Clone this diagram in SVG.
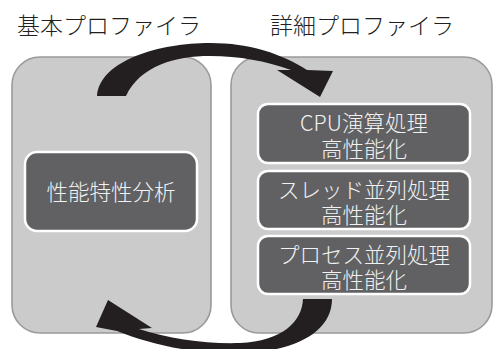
<svg xmlns="http://www.w3.org/2000/svg" width="494" height="349" viewBox="0 0 494 349">
<style>
.title{font-family:"Noto Sans CJK JP","Noto Sans",sans-serif;font-size:23px;fill:#231f20;text-anchor:middle;font-weight:300}
.panel{fill:#cbcbcc;stroke:#9a9a9b;stroke-width:1.6}
.box{fill:#616163;stroke:#ffffff;stroke-width:2.5}
.lbl{font-family:"Noto Sans CJK JP","Noto Sans",sans-serif;font-size:21.5px;fill:#f2f2f2;text-anchor:middle;font-weight:300}
.arrow{fill:#231f20}
</style>
<rect width="494" height="349" fill="#ffffff"/>
<g id="basic-profiler">
  <text class="title" x="109" y="34">基本プロファイラ</text>
  <rect class="panel" x="12" y="57" width="199" height="276" rx="28"/>
</g>
<g id="detail-profiler">
  <text class="title" x="362" y="34">詳細プロファイラ</text>
  <rect class="panel" x="231" y="57" width="261" height="276" rx="28"/>
</g>
<g id="perf-analysis">
  <rect class="box" x="25" y="152" width="172" height="79" rx="12"/>
  <text class="lbl" x="111" y="200">性能特性分析</text>
</g>
<g id="cpu">
  <rect class="box" x="258" y="104" width="212" height="59" rx="10"/>
  <text class="lbl" x="364" y="131">CPU演算処理</text>
  <text class="lbl" x="364" y="157">高性能化</text>
</g>
<g id="thread">
  <rect class="box" x="258" y="171" width="212" height="58" rx="10"/>
  <text class="lbl" x="364" y="198">スレッド並列処理</text>
  <text class="lbl" x="364" y="223">高性能化</text>
</g>
<g id="process">
  <rect class="box" x="258" y="236" width="212" height="58" rx="10"/>
  <text class="lbl" x="364" y="263">プロセス並列処理</text>
  <text class="lbl" x="364" y="288">高性能化</text>
</g>
<g id="connectors">
  <path class="arrow" d="M97,96 C100,60 160,43 210,43 C250,43 282,54 307,70 L333,71 L320,97 L277,70 L291,70 C265,61 240,56 210,56 C175,56 140,66 126,96 Z"/>
  <path class="arrow" d="M303,299 L332,299 C332,332 295,352 240,353 C190,354 150,344 117,331 L96,327 L108,300 L152,328 L139,329 C170,339 205,344 240,343 C282,341 302,322 303,299 Z"/>
</g>
</svg>
